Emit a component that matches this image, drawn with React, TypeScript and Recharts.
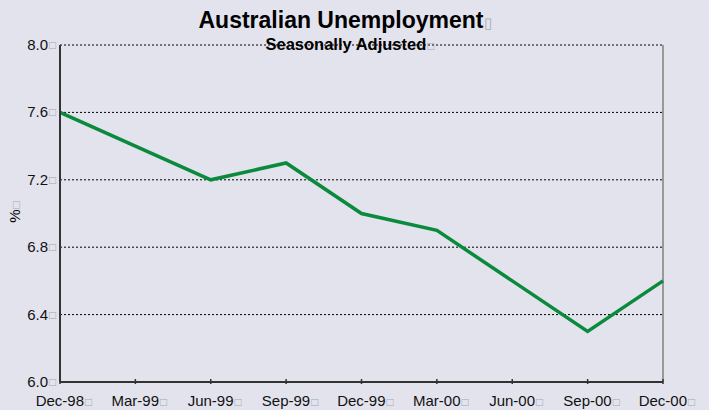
import { LineChart, Line, XAxis, YAxis, CartesianGrid, Customized } from 'recharts';

const quarters = ['Dec-98', 'Mar-99', 'Jun-99', 'Sep-99', 'Dec-99', 'Mar-00', 'Jun-00', 'Sep-00', 'Dec-00'];
const unemployment = [7.6, 7.4, 7.2, 7.3, 7.0, 6.9, 6.6, 6.3, 6.6];
const yTicks = [6.0, 6.4, 6.8, 7.2, 7.6, 8.0];

const data = quarters.map((q, i) => ({ quarter: q, rate: unemployment[i] }));

const BG = '#e3e3ed';
const FONT = '"Liberation Sans", Arial, sans-serif';
const PLOT = { left: 60, right: 663, top: 45, bottom: 382 };

// little box glyph that trails every label in the original
const Box = () => <tspan fill="#a8a8b0" fontSize={12} fontWeight="normal" dx={1}>□</tspan>;

const XTick = (props: any) => {
  const { x, y, payload } = props;
  return (
    <g>
      <line x1={x} y1={y} x2={x} y2={y - 5} stroke="#333" strokeWidth={1.5} />
      <text x={x + 4} y={y + 22} textAnchor="middle" fontSize={15} fill="#111" fontFamily={FONT}>
        {payload.value}<Box />
      </text>
    </g>
  );
};

const YTick = (props: any) => {
  const { x, y, payload } = props;
  return (
    <g fontFamily={FONT}>
      <text x={x - 4} y={y + 5} textAnchor="end" fontSize={15} fill="#111">
        {payload.value.toFixed(1)}
      </text>
      <text x={x - 3} y={y + 4} fontSize={12} fill="#a8a8b0">□</text>
    </g>
  );
};

const Titles = () => (
  <g fontFamily={FONT} fontWeight="bold" fill="#000">
    <line x1={PLOT.right} y1={PLOT.top} x2={PLOT.right} y2={PLOT.bottom} stroke="#999" strokeWidth={2} />
    <text x={345} y={28} textAnchor="middle" fontSize={23}>
      Australian Unemployment<tspan fill="#a8a8b0" fontWeight="normal" fontSize={15}>▯</tspan>
    </text>
    <text x={350} y={50} textAnchor="middle" fontSize={16.5}>
      Seasonally Adjusted<Box />
    </text>
    <text transform="translate(20,212) rotate(-90)" textAnchor="middle" fontSize={15} fontWeight="normal">
      %<Box />
    </text>
  </g>
);

export default function App() {
  return (
    <div style={{ position: 'fixed', left: 0, top: 0, width: 709, height: 410, background: BG }}>
      <LineChart width={709} height={410} data={data} margin={{ top: 45, right: 46, bottom: 0, left: 0 }}>
        <CartesianGrid horizontal vertical={false} stroke="#000" strokeDasharray="2 2" />
        <XAxis
          dataKey="quarter"
          height={28}
          tickSize={0}
          tick={<XTick />}
          stroke="#333"
          strokeWidth={2}
          interval={0}
        />
        <YAxis
          domain={[6, 8]}
          ticks={yTicks}
          width={60}
          tickLine={false}
          tick={<YTick />}
          stroke="#333"
          strokeWidth={2}
        />
        <Line
          type="linear"
          dataKey="rate"
          stroke="#0a8a3c"
          strokeWidth={3.5}
          dot={false}
          isAnimationActive={false}
        />
        <Customized component={Titles} />
      </LineChart>
    </div>
  );
}
